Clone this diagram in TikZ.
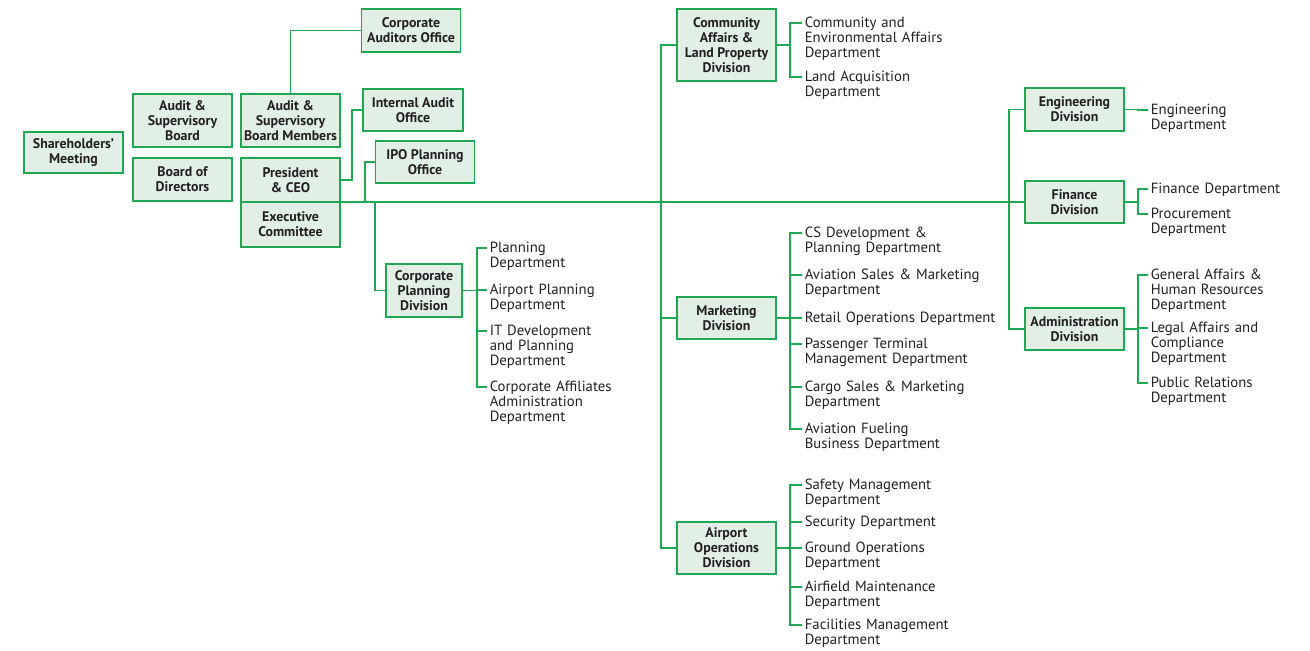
\documentclass[tikz,border=0pt]{standalone}
\usepackage{fontspec}
\setmainfont{PT Sans}
\definecolor{orgline}{HTML}{1EA854}
\definecolor{orgfill}{HTML}{E1EFE6}
\definecolor{orgtext}{HTML}{231F20}

\begin{document}
\begin{tikzpicture}[x=0.02cm, y=-0.02cm,
  unit/.style={draw=orgline, fill=orgfill, line width=1.1pt, minimum width=1.98cm, inner sep=0pt, outer sep=0pt, align=center, text=orgtext, font=\bfseries\fontsize{7.9}{8.5}\selectfont},
  dept/.style={anchor=mid west, align=left, text width=4.4cm, inner xsep=1.6pt, inner ysep=0pt, outer sep=0pt, text=orgtext, font=\fontsize{8.4}{8.5}\selectfont},
  link/.style={draw=orgline, line width=1.1pt}]
\useasboundingbox (0,0) rectangle (1310,650);

% top management
\node[unit, minimum height=0.82cm] (share) at (73.5,152.5) {Shareholders’\\Meeting};
\node[unit, minimum height=1.06cm] (asb) at (182.5,120.5) {Audit \&\\Supervisory\\Board};
\node[unit, minimum height=0.86cm] (bod) at (182.5,179.5) {Board of\\Directors};
\node[unit, minimum height=1.06cm] (asbm) at (290.5,120.5) {Audit \&\\Supervisory\\Board Members};
\node[unit, minimum height=0.88cm] (ceo) at (290.5,180) {President\\\& CEO};
\node[unit, minimum height=0.9cm] (exco) at (290.5,224.5) {Executive\\Committee};
\node[unit, minimum height=0.86cm] (cao) at (411,30.5) {Corporate\\Auditors Office};
\node[unit, minimum width=2cm, minimum height=0.84cm] (iao) at (413,110) {Internal Audit\\Office};
\node[unit, minimum height=0.84cm] (ipo) at (425,162) {IPO Planning\\Office};

% divisions
\node[unit, minimum width=1.52cm, minimum height=1.06cm] (cpd) at (424,290.5) {Corporate\\Planning\\Division};
\node[unit, minimum height=1.44cm] (cal) at (726.5,45) {Community\\Affairs \&\\Land Property\\Division};
\node[unit, minimum height=0.84cm] (mkt) at (726.5,318) {Marketing\\Division};
\node[unit, minimum height=1.04cm] (aod) at (726.5,548) {Airport\\Operations\\Division};
\node[unit, minimum height=0.86cm] (eng) at (1074.5,109.5) {Engineering\\Division};
\node[unit, minimum height=0.84cm] (fin) at (1074.5,202) {Finance\\Division};
\node[unit, minimum height=0.84cm] (adm) at (1074.5,329) {Administration\\Division};

\coordinate (jipo) at (365,202);
\coordinate (jcp) at (375,202);

\draw[link] (ceo.south east) -- (fin.west);
\draw[link] (asbm.north) |- (cao.west);
\draw[link] (ceo.east) -- ++(12,0) |- (iao.west);
\draw[link] (jipo) |- (ipo.west);
\draw[link] (jcp) |- (cpd.west);
\draw[link] (cal.west) -- ++(-16,0) |- (aod.west);
\draw[link] (cal.west) -- ++(-16,0) |- (mkt.west);
\draw[link] (eng.west) -- ++(-16,0) |- (adm.west);

% departments
\foreach \n/\y/\txt in {1/248/{Planning\\Department}, 2/290/{Airport Planning\\Department},
    3/331/{IT Development\\and Planning\\Department}, 4/387/{Corporate Affiliates\\Administration\\Department}}
  {\node[dept] (cp\n) at (487,\y) {\txt};
   \draw[link] (cpd.east) -- ++(15,0) |- (cp\n.mid west);}

\foreach \n/\y/\txt in {1/23/{Community and\\Environmental Affairs\\Department}, 2/77/{Land Acquisition\\Department}}
  {\node[dept] (ca\n) at (802,\y) {\txt};
   \draw[link] (cal.east) -- ++(14,0) |- (ca\n.mid west);}

\foreach \n/\y/\txt in {1/233/{CS Development \&\\Planning Department}, 2/275/{Aviation Sales \& Marketing\\Department},
    3/318/{Retail Operations Department}, 4/344/{Passenger Terminal\\Management Department},
    5/387/{Cargo Sales \& Marketing\\Department}, 6/429/{Aviation Fueling\\Business Department}}
  {\node[dept] (mk\n) at (802,\y) {\txt};
   \draw[link] (mkt.east) -- ++(14,0) |- (mk\n.mid west);}

\foreach \n/\y/\txt in {1/485/{Safety Management\\Department}, 2/522/{Security Department},
    3/548/{Ground Operations\\Department}, 4/587/{Airfield Maintenance\\Department},
    5/625/{Facilities Management\\Department}}
  {\node[dept] (ao\n) at (802,\y) {\txt};
   \draw[link] (aod.east) -- ++(14,0) |- (ao\n.mid west);}

\node[dept] (en1) at (1148,110) {Engineering\\Department};
\draw[link] (eng.east) -- ++(14,0) |- (en1.mid west);

\foreach \n/\y/\txt in {1/189/{Finance Department}, 2/214/{Procurement\\Department}}
  {\node[dept] (fi\n) at (1148,\y) {\txt};
   \draw[link] (fin.east) -- ++(14,0) |- (fi\n.mid west);}

\foreach \n/\y/\txt in {1/275/{General Affairs \&\\Human Resources\\Department}, 2/328/{Legal Affairs and\\Compliance\\Department},
    3/383/{Public Relations\\Department}}
  {\node[dept] (ad\n) at (1148,\y) {\txt};
   \draw[link] (adm.east) -- ++(14,0) |- (ad\n.mid west);}
\end{tikzpicture}
\end{document}
